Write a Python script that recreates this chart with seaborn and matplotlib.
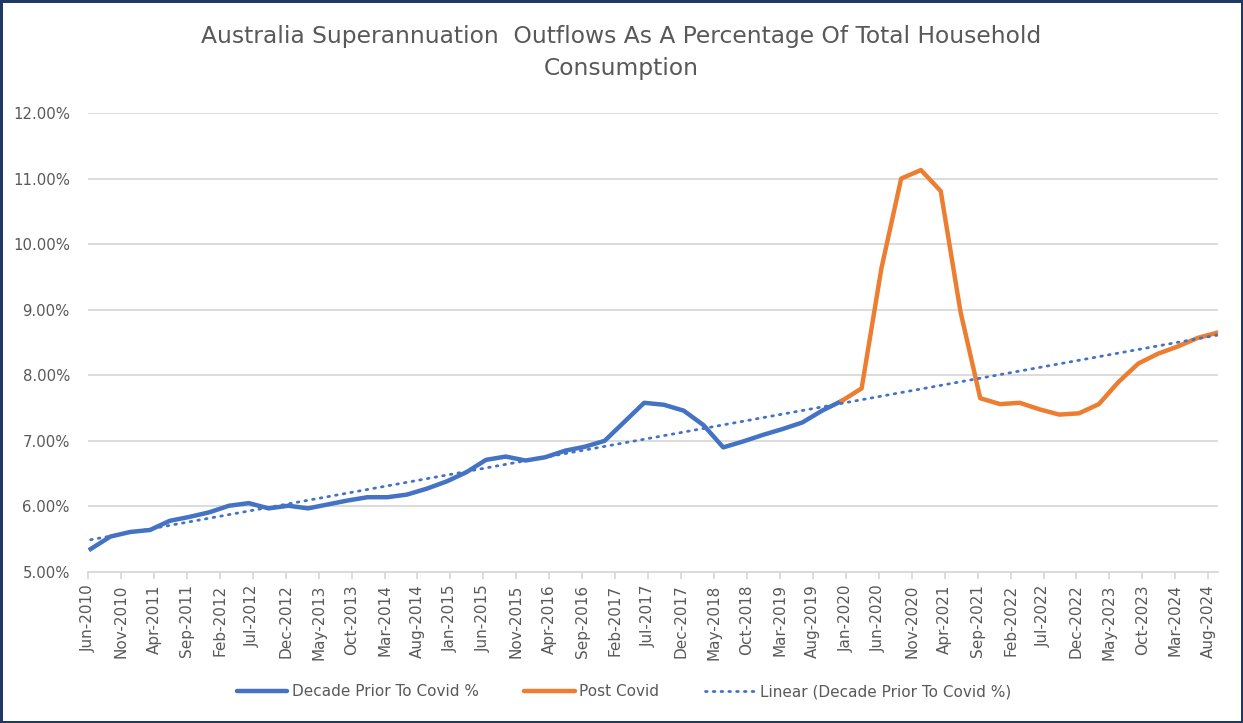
import pandas as pd
import numpy as np
import matplotlib
matplotlib.use('Agg')
import matplotlib.pyplot as plt
from matplotlib.lines import Line2D
from matplotlib.ticker import FuncFormatter
import seaborn as sns

# quarterly values, % of total household consumption
pre_covid = [5.35, 5.54, 5.61, 5.64, 5.78, 5.84, 5.91, 6.01, 6.05, 5.97,
             6.01, 5.97, 6.03, 6.09, 6.14, 6.14, 6.18, 6.27, 6.38, 6.52,
             6.71, 6.76, 6.70, 6.75, 6.85, 6.91, 7.00, 7.29, 7.58, 7.55,
             7.46, 7.24, 6.90, 6.99, 7.09, 7.18, 7.28, 7.46, 7.61]
post_covid = [7.61, 7.80, 9.63, 11.00, 11.13, 10.81, 8.97, 7.65, 7.56, 7.58,
              7.48, 7.40, 7.42, 7.56, 7.90, 8.18, 8.33, 8.44, 8.57, 8.65]

quarters = pd.date_range('2010-06-01', '2024-09-01', freq='3MS')
tick_dates = pd.date_range('2010-06-01', '2024-08-01', freq='5MS')

def month_pos(d):
    return (d.year - 2010) * 12 + (d.month - 6)

xq = np.array([month_pos(d) for d in quarters]) + 0.4
n_pre = len(pre_covid)

df = pd.concat([
    pd.DataFrame({'x': xq[:n_pre], 'pct': pre_covid, 'series': 'Decade Prior To Covid %'}),
    pd.DataFrame({'x': xq[n_pre - 1:], 'pct': post_covid, 'series': 'Post Covid'}),
])

blue = '#4472C4'
orange = '#ED7D31'
grey_txt = '#595959'

plt.rcParams['font.family'] = ['Liberation Sans Narrow', 'DejaVu Sans']

fig = plt.figure(figsize=(12.43, 7.23), dpi=100, edgecolor='#1F3864', linewidth=2.2)
ax = fig.add_axes([0.0708, 0.2089, 0.9092, 0.6348])

# linear trendline of the pre-covid series, projected forward
coef = np.polyfit(xq[:n_pre], pre_covid, 1)
ax.plot(xq, np.polyval(coef, xq), color=blue, lw=2, linestyle=(0, (0.6, 2.2)),
        dash_capstyle='round', zorder=3)

sns.lineplot(data=df, x='x', y='pct', hue='series',
             palette={'Decade Prior To Covid %': blue, 'Post Covid': orange},
             linewidth=3.2, ax=ax, legend=False, zorder=2)

ax.set_xlim(0, 171.5)
ax.set_ylim(5, 12)
ax.set_yticks(np.arange(5, 12.01, 1))
ax.yaxis.set_major_formatter(FuncFormatter(lambda v, p: '{:.2f}%'.format(v)))
ax.set_xticks([month_pos(d) for d in tick_dates])
ax.set_xticklabels([d.strftime('%b-%Y') for d in tick_dates], rotation=90)

ax.grid(axis='y', color='#D9D9D9', linewidth=1.3)
ax.set_axisbelow(True)
for s in ['top', 'right', 'left']:
    ax.spines[s].set_visible(False)
ax.spines['bottom'].set_color('#D9D9D9')
ax.spines['bottom'].set_linewidth(1.3)
ax.tick_params(axis='x', colors='#D9D9D9', length=5, width=1.3, labelcolor=grey_txt,
               labelsize=11, pad=4)
ax.tick_params(axis='y', length=0, labelcolor=grey_txt, labelsize=10.7, pad=13)
ax.set_xlabel('')
ax.set_ylabel('')

fig.text(0.5, 0.927, 'Australia Superannuation  Outflows As A Percentage Of Total Household\nConsumption',
         ha='center', va='center', fontsize=16.8, color=grey_txt, linespacing=1.5)

handles = [Line2D([], [], color=blue, lw=3.2, solid_capstyle='round'),
           Line2D([], [], color=orange, lw=3.2, solid_capstyle='round'),
           Line2D([], [], color=blue, lw=2, linestyle=(0, (0.6, 2.2)), dash_capstyle='round')]
labels = ['Decade Prior To Covid %', 'Post Covid', 'Linear (Decade Prior To Covid %)']
fig.legend(handles, labels, loc='center', bbox_to_anchor=(0.502, 0.043), ncol=3,
           frameon=False, fontsize=11, labelcolor=grey_txt, handlelength=3.3,
           handletextpad=0.3, columnspacing=3.0)

fig.savefig('out.png', dpi=100)
